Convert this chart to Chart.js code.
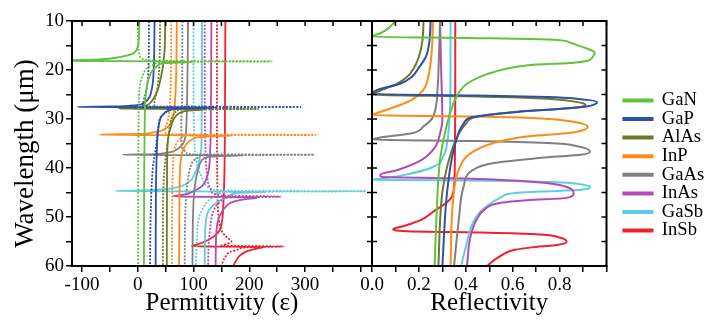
<!DOCTYPE html>
<html>
<head>
<meta charset="utf-8">
<script src="https://cdn.jsdelivr.net/npm/chart.js@4.4.1/dist/chart.umd.min.js"></script>
<style>
  html, body { margin: 0; padding: 0; background: #fff; }
  #wrap { position: relative; width: 711px; height: 320px; overflow: hidden; }
  #left { position: absolute; left: 0; top: 0; }
  #right { position: absolute; left: 352px; top: 0; }
</style>
</head>
<body>
<div id="wrap">
  <canvas id="left" width="380" height="320"></canvas>
  <canvas id="right" width="359" height="320"></canvas>
</div>
<script>
// materials and colours
const materials = ["GaN", "GaP", "AlAs", "InP", "GaAs", "InAs", "GaSb", "InSb"];
const colors = ["#62c23e", "#2f4fa8", "#6e7a2a", "#ff8c1a", "#808080", "#b44bb4", "#5fcde0", "#f0202c"];

// axis ticks
const wlTicks = [10, 15, 20, 25, 30, 35, 40, 45, 50, 55, 60];
const wlLabels = [10, 20, 30, 40, 50, 60];
const epsTicks = [-100, -50, 0, 50, 100, 150, 200, 250, 300, 350, 400];
const epsLabels = [-100, 0, 100, 200, 300];
const reflTicks = [0, 0.1, 0.2, 0.3, 0.4, 0.5, 0.6, 0.7, 0.8, 0.9, 1.0];
const reflLabels = ["0.0", "0.2", "0.4", "0.6", "0.8"];

// [wavelength um, value]; permittivity curves are offset by 20 per material
const ganRe = [[10,3],[13,2],[15,0.5],[16,-3],[16.6,-8],[17,-18],[17.5,-40],[17.9,-80],[18.1,-160],[18.3,100],[18.6,48],[19,37],[20,27],[21.5,20],[23.5,16],[26,13.5],[30,12.5],[40,11.5],[60,11]];
const ganIm = [[10,0],[14,0.5],[16,1.5],[17.3,4],[17.9,12],[18.15,60],[18.25,240],[18.35,60],[18.7,32],[19.5,18],[21,9],[23,4],[27,2],[35,1],[60,0.5]];
const ganR = [[10,0.1],[11.5,0.07],[12.5,0.035],[13.2,0],[13.5,0.45],[13.8,0.76],[14.5,0.85],[15.5,0.91],[16.5,0.95],[17.4,0.94],[18.1,0.92],[18.5,0.86],[18.9,0.7],[19.4,0.61],[20.4,0.52],[21.4,0.46],[23,0.4],[25.5,0.36],[32,0.315],[38.4,0.29],[50,0.275],[60,0.267]];

const gapRe = [[10,30],[16,29.5],[20,28.5],[22.5,27],[24.5,24],[25.5,21],[26.5,14],[27,6],[27.3,-15],[27.45,-50],[27.55,-108],[27.65,140],[27.85,80],[28.3,56],[29.2,44],[30.5,39],[32.8,36],[37,34],[45,32.5],[60,32]];
const gapIm = [[10,20],[18,19.5],[22,18],[24.5,15],[26,11],[27,9],[27.45,20],[27.55,292],[27.65,70],[28.3,52],[29.6,41],[31.5,37],[35.3,33],[40,27],[50,23],[60,22]];
const gapR = [[10,0.25],[14,0.245],[17.3,0.23],[19.5,0.2],[21.4,0.17],[22.8,0.12],[24.1,0.02],[24.9,0],[25.2,0.45],[25.5,0.75],[25.9,0.88],[26.5,0.96],[27,0.95],[27.5,0.91],[28,0.78],[28.6,0.61],[29.6,0.43],[31,0.39],[32.2,0.375],[37,0.345],[45,0.32],[60,0.3]];

const alasRe = [[10,49],[15,48.5],[18,46.5],[20,44],[22,40.5],[24,36],[25.5,30],[26.5,24],[27.1,18],[27.5,8],[27.75,-8],[27.9,-34],[28,120],[28.3,90],[28.8,75],[29.6,67],[31,61],[34.3,54],[40,52.5],[60,52]];
const alasIm = [[10,40],[18,39],[22,37],[25,33],[26.5,30],[27.5,30],[27.85,40],[27.95,216],[28.05,80],[28.5,68],[29.6,61],[31,58],[34.3,54],[40,48],[50,45],[60,45]];
const alasR = [[10,0.22],[14,0.215],[17.3,0.2],[19.5,0.18],[21.4,0.15],[23,0.1],[24.3,0.03],[25.1,0],[25.4,0.45],[25.8,0.72],[26.3,0.84],[26.8,0.9],[27.2,0.91],[27.6,0.88],[28,0.78],[28.5,0.62],[29.5,0.45],[31,0.4],[33,0.37],[38,0.33],[45,0.3],[60,0.283]];

const inpRe = [[10,70],[16,69.5],[22,68.5],[26,67],[28.5,65],[30,62],[31,58],[31.8,52],[32.4,42],[32.8,25],[33.05,0],[33.2,-68],[33.35,170],[33.6,120],[34.2,97],[35.2,87],[36.3,81],[38.5,77],[41,75.5],[50,74.5],[60,74]];
const inpIm = [[10,60],[20,59.5],[26,58],[29,56],[31,52],[32.3,48],[32.9,50],[33.15,70],[33.25,319],[33.35,90],[33.8,78],[34.5,72],[36,66],[40,63],[50,61.5],[60,61]];
const inpR = [[10,0.26],[16,0.255],[21.4,0.24],[24,0.22],[26.1,0.17],[27.5,0.1],[28.8,0.02],[29.2,0],[29.5,0.45],[29.9,0.72],[30.5,0.85],[31.6,0.92],[32.3,0.9],[32.9,0.83],[33.5,0.67],[34.9,0.52],[37,0.42],[40.4,0.37],[47,0.345],[60,0.335]];

const gaasRe = [[10,90],[18,89.5],[25,88.5],[30,87.5],[33,86],[34.3,84],[35.5,78],[36.2,70],[36.7,61],[37,45],[37.2,20],[37.3,-27],[37.42,190],[37.6,140],[38,120],[39,112],[40.5,108],[41.8,105],[45,101],[50,99],[60,98]];
const gaasIm = [[10,80],[25,79.5],[32,78],[34.5,78],[36,80],[36.9,87],[37.2,100],[37.3,316],[37.4,120],[37.8,108],[38.5,100],[40,94],[43,89],[50,85],[60,84]];
const gaasR = [[10,0.29],[18,0.285],[23.5,0.28],[29.6,0.26],[31.5,0.22],[32.9,0.17],[33.9,0.02],[34.2,0],[34.5,0.45],[34.9,0.75],[35.6,0.88],[36.7,0.93],[37.3,0.89],[37.8,0.75],[39,0.52],[40.4,0.43],[43.9,0.39],[50.6,0.37],[60,0.35]];

const inasRe = [[10,132],[20,131.5],[30,131],[36,130],[39.8,128],[41.5,125],[43,120],[44,112],[44.9,97],[45.4,85],[45.8,63],[46,215],[46.4,190],[47,168],[48,157],[49.3,149],[50.6,144],[53,141],[56,140],[60,139.5]];
const inasIm = [[10,120],[25,120],[35,121],[40,123],[43,126],[44.8,132],[45.6,150],[45.85,256],[46.05,160],[46.6,150],[47.5,142],[49,135],[52,130],[56,127],[60,126]];
const inasR = [[10,0.29],[20,0.295],[30.2,0.3],[33,0.29],[35.7,0.27],[38.4,0.21],[40.4,0.11],[41.4,0.035],[41.8,0.04],[42.1,0.35],[42.6,0.62],[43.3,0.78],[44.3,0.85],[45.1,0.86],[46.1,0.83],[46.6,0.66],[47.1,0.55],[48.5,0.48],[50.2,0.45],[54,0.42],[60,0.405]];

const gasbRe = [[10,115],[20,115],[30,114.5],[35.7,114],[38,111],[39.8,107],[41.2,102],[42.4,96],[43.3,86],[43.9,72],[44.3,50],[44.55,10],[44.7,-40],[44.85,230],[45.1,180],[45.6,165],[46.1,157],[47,142],[48,132],[49.2,125],[51,122],[55,120.5],[60,120]];
const gasbIm = [[10,100],[25,100],[33,101],[37,103],[40,108],[42,115],[43.5,122],[44.4,135],[44.65,180],[44.75,409],[44.9,160],[45.5,140],[46.5,128],[48,118],[50,110],[55,106],[60,104]];
const gasbR = [[10,0.335],[20,0.335],[30.2,0.33],[35,0.32],[37,0.31],[39.8,0.26],[41.4,0.14],[42.2,0.035],[42.4,0],[42.6,0.5],[42.9,0.78],[43.4,0.9],[43.9,0.93],[44.5,0.88],[44.8,0.72],[45.1,0.61],[46,0.55],[47.1,0.51],[49,0.46],[51.2,0.43],[56.1,0.4],[60,0.38]];

const insbRe = [[10,157],[25,156.5],[40,155.5],[46,154],[50,152],[51.5,150],[52.7,147],[53.8,138],[54.7,126],[55.3,114],[55.7,103],[55.95,97],[56.15,225],[56.4,215],[57,195],[58,182],[59,176],[60,171]];
const insbIm = [[10,142],[30,142],[45,143],[50,145],[52.7,150],[54.2,160],[54.9,168],[55.5,160],[55.85,150],[56.02,261],[56.2,195],[56.6,180],[57.1,166],[58,158],[59,153],[60,150]];
const insbR = [[10,0.355],[25,0.355],[35,0.354],[43.9,0.35],[45.9,0.34],[47,0.32],[48.6,0.27],[50.6,0.21],[51.8,0.14],[52.5,0.09],[52.9,0.15],[53.2,0.5],[53.5,0.7],[54.2,0.8],[55.1,0.83],[55.7,0.79],[56.2,0.68],[56.7,0.61],[58.2,0.54],[60,0.49]];

const realParts = [ganRe, gapRe, alasRe, inpRe, gaasRe, inasRe, gasbRe, insbRe];
const imagParts = [ganIm, gapIm, alasIm, inpIm, gaasIm, inasIm, gasbIm, insbIm];
const reflectivity = [ganR, gapR, alasR, inpR, gaasR, inasR, gasbR, insbR];

const serif = '"Liberation Serif", "Times New Roman", serif';
Chart.defaults.font.family = serif;
Chart.defaults.color = "#000";

const toPoints = arr => arr.map(p => ({ x: p[1], y: p[0] }));

// frame with inward tick marks on the top / right, crossing ticks on the left
const frameTicks = {
    id: "frameTicks",
    afterDatasetsDraw(chart, args, opts) {
        const { ctx, chartArea: a, scales } = chart;
        ctx.save();
        ctx.strokeStyle = "#000";
        ctx.lineWidth = 2;
        ctx.strokeRect(a.left, a.top, a.right - a.left, a.bottom - a.top);
        ctx.lineWidth = 1.5;
        ctx.beginPath();
        opts.xTicks.forEach(v => {
            const px = scales.x.getPixelForValue(v);
            ctx.moveTo(px, a.top);
            ctx.lineTo(px, a.top + 5);
        });
        if (opts.sideTicks) {
            wlTicks.forEach(v => {
                const py = scales.y.getPixelForValue(v);
                ctx.moveTo(a.left - 5, py);
                ctx.lineTo(a.left + 5, py);
                ctx.moveTo(a.right, py);
                ctx.lineTo(a.right - 5, py);
            });
        }
        ctx.stroke();
        ctx.restore();
    }
};

// rotated y title, placed a little below the middle of the plot as in the figure
const sideTitle = {
    id: "sideTitle",
    afterDraw(chart, args, opts) {
        const { ctx, chartArea: a } = chart;
        ctx.save();
        ctx.translate(opts.x, (a.top + a.bottom) / 2 + opts.dy);
        ctx.rotate(-Math.PI / 2);
        ctx.textAlign = "center";
        ctx.textBaseline = "middle";
        ctx.fillStyle = "#000";
        ctx.font = "27px " + serif;
        ctx.fillText(opts.text, 0, 0);
        ctx.restore();
    }
};

const leftSets = [];
materials.forEach((m, i) => {
    leftSets.push({
        label: m + " Im",
        data: toPoints(imagParts[i]),
        borderColor: colors[i],
        backgroundColor: colors[i],
        borderWidth: 1.8,
        borderDash: [2, 1.5]
    });
    leftSets.push({
        label: m,
        data: toPoints(realParts[i]),
        borderColor: colors[i],
        backgroundColor: colors[i],
        borderWidth: 1.8
    });
});

const rightSets = materials.map((m, i) => ({
    label: m,
    data: toPoints(reflectivity[i]),
    borderColor: colors[i],
    backgroundColor: colors[i],
    borderWidth: 2
}));

const lineDefaults = {
    point: { radius: 0 },
    line: { cubicInterpolationMode: "monotone", fill: false }
};

const axisGrid = { drawOnChartArea: false, tickLength: 6, color: "#000", lineWidth: 1.5 };
const axisBorder = { color: "#000", width: 2 };
const tickFont = { family: serif, size: 19 };
const titleFont = { family: serif, size: 25, lineHeight: 1 };

new Chart(document.getElementById("left"), {
    type: "line",
    data: { datasets: leftSets },
    options: {
        responsive: false,
        animation: false,
        indexAxis: "y",
        elements: lineDefaults,
        layout: { padding: { top: 21, right: 8, left: 0, bottom: 4 } },
        plugins: {
            legend: { display: false },
            tooltip: { enabled: false },
            frameTicks: { xTicks: epsTicks, sideTicks: false },
            sideTitle: { text: "Wavelength (μm)", x: 26, dy: 10 }
        },
        scales: {
            x: {
                type: "linear",
                position: "bottom",
                min: -118,
                max: 420,
                afterBuildTicks: s => { s.ticks = epsTicks.map(v => ({ value: v })); },
                afterFit: s => { s.height = 50; },
                ticks: {
                    autoSkip: false,
                    maxRotation: 0,
                    padding: 2,
                    font: tickFont,
                    callback: v => epsLabels.includes(v) ? String(v) : ""
                },
                grid: axisGrid,
                border: axisBorder,
                title: { display: true, text: "Permittivity (ε)", font: titleFont, padding: 0 }
            },
            y: {
                type: "linear",
                position: "left",
                reverse: true,
                min: 10,
                max: 60,
                afterBuildTicks: s => { s.ticks = wlTicks.map(v => ({ value: v })); },
                afterFit: s => { s.width = 72; },
                ticks: {
                    autoSkip: false,
                    padding: 2,
                    font: tickFont,
                    callback: v => wlLabels.includes(v) ? String(v) : ""
                },
                grid: axisGrid,
                border: axisBorder
            }
        }
    },
    plugins: [frameTicks, sideTitle]
});

new Chart(document.getElementById("right"), {
    type: "line",
    data: { datasets: rightSets },
    options: {
        responsive: false,
        animation: false,
        indexAxis: "y",
        elements: lineDefaults,
        layout: { padding: { top: 21, right: 5, left: 20, bottom: 10 } },
        plugins: {
            legend: {
                position: "right",
                labels: {
                    boxWidth: 30,
                    boxHeight: 2,
                    padding: 0,
                    color: "#000",
                    font: { family: serif, size: 18.6 }
                }
            },
            tooltip: { enabled: false },
            frameTicks: { xTicks: reflTicks, sideTicks: true }
        },
        scales: {
            x: {
                type: "linear",
                position: "bottom",
                min: 0,
                max: 1,
                afterBuildTicks: s => { s.ticks = reflTicks.map(v => ({ value: v })); },
                afterFit: s => { s.height = 44; },
                ticks: {
                    autoSkip: false,
                    maxRotation: 0,
                    padding: 2,
                    font: tickFont,
                    callback: v => reflLabels.includes(v.toFixed(1)) ? v.toFixed(1) : ""
                },
                grid: axisGrid,
                border: axisBorder,
                title: { display: true, text: "Reflectivity", font: titleFont, padding: { top: 0, bottom: -6 } }
            },
            y: {
                type: "linear",
                display: false,
                reverse: true,
                min: 10,
                max: 60
            },
            gap: {
                type: "linear",
                position: "right",
                min: 10,
                max: 60,
                afterFit: s => { s.width = 16; },
                ticks: { display: false },
                grid: { display: false },
                border: { display: false }
            }
        }
    },
    plugins: [frameTicks]
});
</script>
</body>
</html>
